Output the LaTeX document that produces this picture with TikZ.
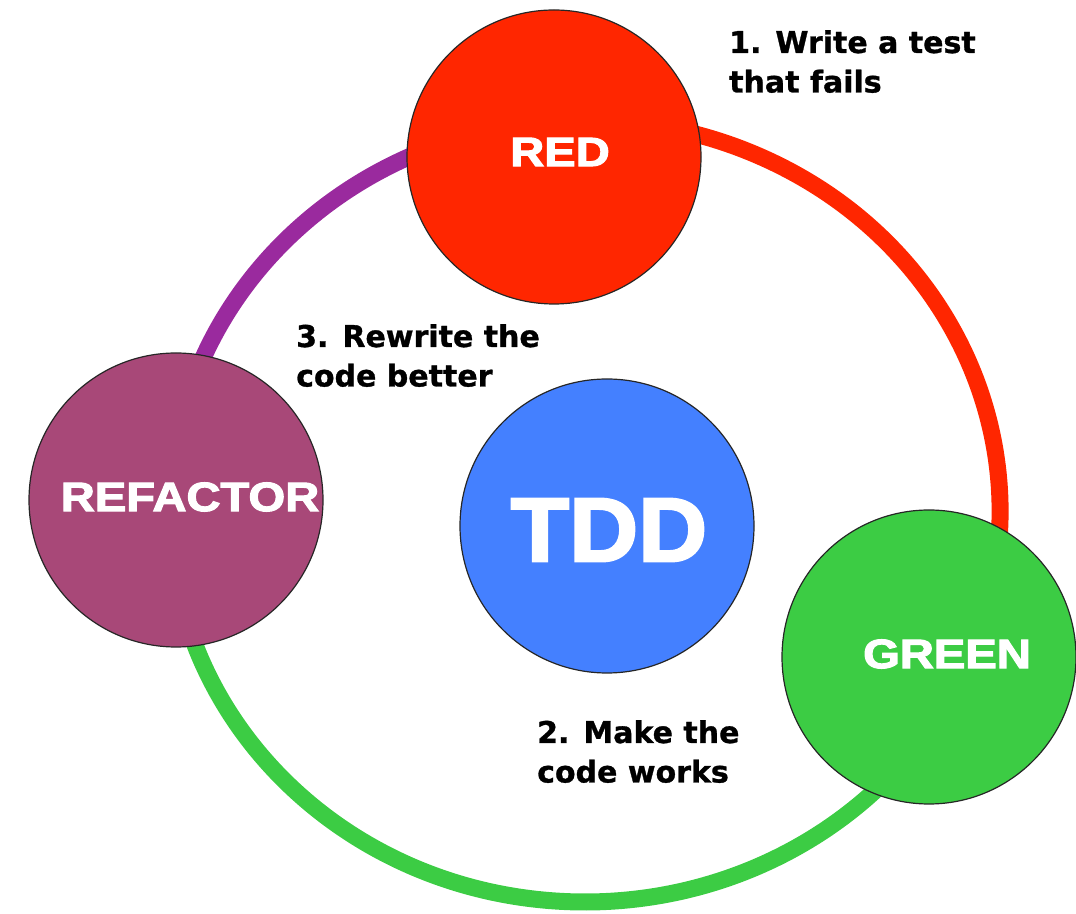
\documentclass[tikz,border=0pt]{standalone}
\usepackage{fontspec}
\setmainfont{DejaVu Sans}[BoldFeatures={FakeBold=1}]
\newfontfamily\capsfont{Liberation Sans Bold}[FakeBold=2.5]
\usetikzlibrary{positioning}

\definecolor{redfill}{HTML}{FF2600}
\definecolor{greenfill}{HTML}{3CCC44}
\definecolor{bluefill}{HTML}{4480FF}
\definecolor{mauvefill}{HTML}{A84878}
\definecolor{purplering}{HTML}{9A2A9E}

\newcommand{\widecaps}[1]{\scalebox{1.15}[1]{#1}}

\tikzset{
  bubble/.style={circle, draw=black!85, line width=1.2pt, minimum size=294pt, inner sep=0pt},
  ring/.style={line width=17pt},
  caplbl/.style={text=white, inner sep=0pt, font=\capsfont\fontsize{41}{41}\selectfont},
  steplbl/.style={anchor=north west, align=left, inner sep=0pt, font=\bfseries\fontsize{30}{39.5}\selectfont}
}

\begin{document}
\begin{tikzpicture}[x=1pt,y=1pt]
\useasboundingbox (0,0) rectangle (1076,913);
\coordinate (ringc) at (585,402);
% the cycle, one colour per step
\draw[ring,draw=purplering] (ringc) ++(95:415 and 391) arc[start angle=95,end angle=178,x radius=415,y radius=391];
\draw[ring,draw=greenfill] (ringc) ++(178:415 and 391) arc[start angle=178,end angle=336,x radius=415,y radius=391];
\draw[ring,draw=redfill] (ringc) ++(-24:415 and 391) arc[start angle=-24,end angle=95,x radius=415,y radius=391];
% circles
\node[bubble,fill=redfill] (red) at (554,756) {};
\node[bubble,fill=mauvefill] (refactor) at (176,413) {};
\node[bubble,fill=bluefill] (tdd) at (607,387) {};
\node[bubble,fill=greenfill] (green) at (929,256) {};
\node[caplbl] (redtxt) at (560,761) {\widecaps{RED}};
\node[caplbl] (refactortxt) at (190,416) {\widecaps{REFACTOR}};
\node[caplbl] (greentxt) at (947,259) {\widecaps{GREEN}};
\node[caplbl,font=\capsfont\fontsize{91}{91}\selectfont] (tddtxt) at (609,383) {\scalebox{1.05}[1]{TDD}};
% steps
\node[steplbl] (step1) at (729,883) {1. Write a test\\that fails};
\node[steplbl] (step2) at (537,193) {2. Make the\\code works};
\node[steplbl] (step3) at (296,589) {3. Rewrite the\\code better};
\end{tikzpicture}
\end{document}
